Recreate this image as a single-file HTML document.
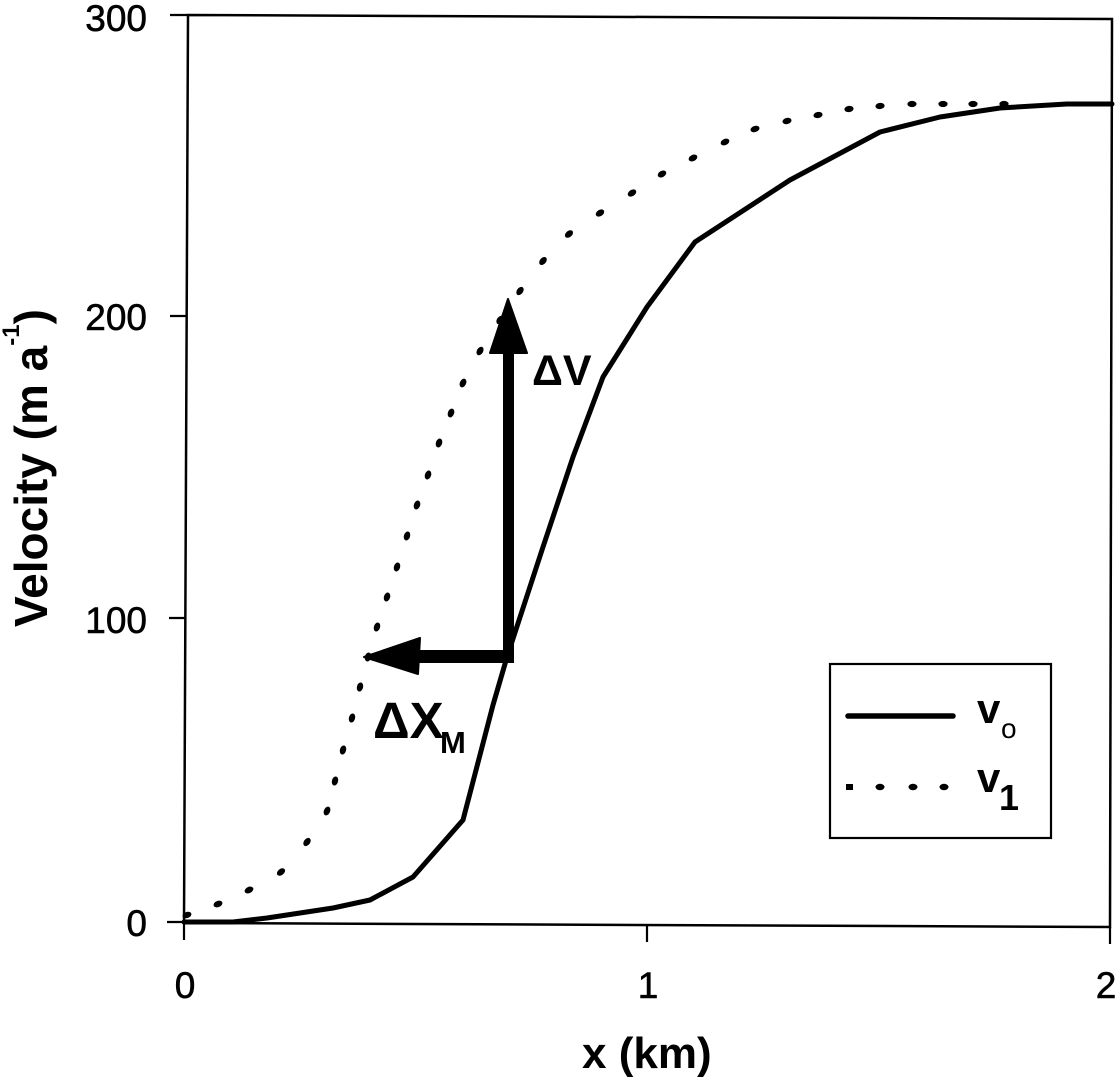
<!DOCTYPE html>
<html>
<head>
<meta charset="utf-8">
<style>
  html, body { margin: 0; padding: 0; background: #ffffff; }
  svg { display: block; }
  text { font-family: "Liberation Sans", Arial, sans-serif; fill: #000; }
</style>
</head>
<body>
<svg width="1120" height="1082" viewBox="0 0 1120 1082" xmlns="http://www.w3.org/2000/svg">
  <defs>
    <marker id="dot" markerUnits="userSpaceOnUse" markerWidth="12" markerHeight="12" refX="6" refY="6" orient="auto" overflow="visible">
      <ellipse cx="6" cy="6" rx="4.6" ry="3.1" fill="#000"/>
    </marker>
  </defs>
  <rect x="0" y="0" width="1120" height="1082" fill="#fff"/>

  <!-- frame -->
  <polygon points="188,15 1112,19 1110,927 184,923" fill="none" stroke="#000" stroke-width="2.5"/>

  <!-- ticks -->
  <g stroke="#000" stroke-width="2.2">
    <line x1="170" y1="15" x2="188" y2="15"/>
    <line x1="170" y1="316" x2="187" y2="316"/>
    <line x1="169" y1="618" x2="186" y2="618"/>
    <line x1="167" y1="922" x2="185" y2="922"/>
    <line x1="184" y1="923" x2="184" y2="940"/>
    <line x1="647" y1="925" x2="647" y2="942"/>
    <line x1="1110" y1="927" x2="1110" y2="944"/>
  </g>

  <!-- y tick labels -->
  <g font-size="37" text-anchor="end" stroke="#000" stroke-width="0.6">
    <text x="147" y="31">300</text>
    <text x="147" y="330">200</text>
    <text x="147" y="633">100</text>
    <text x="147" y="936">0</text>
  </g>
  <!-- x tick labels -->
  <g font-size="37" text-anchor="middle" stroke="#000" stroke-width="0.6">
    <text x="185" y="998">0</text>
    <text x="648" y="998">1</text>
    <text x="1106" y="998">2</text>
  </g>

  <!-- axis titles -->
  <text x="582" y="1068" font-size="44" font-weight="bold">x (km)</text>
  <text transform="translate(47,627) rotate(-90)" font-size="46" font-weight="bold">Velocity (m a<tspan font-size="24" dy="-28">-1</tspan><tspan dy="28">)</tspan></text>

  <!-- solid curve v0 -->
  <polyline fill="none" stroke="#000" stroke-width="5" stroke-linejoin="round" stroke-linecap="round"
    points="184,922 233,922 267,918 300,913 333,908 370,900 413,877 463,820 493,705 507,657 542,550 573,457 603,377 647,307 695,242 790,180 880,132 940,117 1000,108 1067,104 1112,104"/>

  <!-- dotted curve v1 -->
  <polyline fill="none" stroke="none"
    marker-start="url(#dot)" marker-mid="url(#dot)" marker-end="url(#dot)"
    points="187,915 218,904 249,890 281,872 307,842 327,811 335,781 343,750 352,718 360,687 368,657 377,627 387,597 397,567 407,536 417,505 428,475 439,443 451,413 463,383 480,351 500,320 520,291 543,261 569,234 600,213 632,193 662,174 693,158 725,142 755,129 787,121 818,115 849,109 880,106 912,104 943,104 973,104 1004,104"/>

  <!-- arrows -->
  <rect x="503" y="348" width="11" height="315" fill="#000"/>
  <polygon points="508,299 527,353 490,353" fill="#000" stroke="#000" stroke-width="2" stroke-linejoin="round"/>
  <rect x="414" y="650" width="100" height="13" fill="#000"/>
  <polygon points="364,657 420,638 418,674" fill="#000" stroke="#000" stroke-width="2" stroke-linejoin="round"/>

  <!-- annotations -->
  <text x="532" y="385" font-size="43" font-weight="bold">ΔV</text>
  <text x="373" y="738" font-size="51" font-weight="bold">ΔX</text>
  <text x="440" y="753" font-size="31" font-weight="bold">M</text>

  <!-- legend -->
  <rect x="830" y="664" width="221" height="174" fill="#fff" stroke="#000" stroke-width="2.2"/>
  <line x1="848" y1="716" x2="953" y2="716" stroke="#000" stroke-width="5.5" stroke-linecap="round"/>
  <g fill="#000">
    <rect x="846" y="784" width="7" height="6"/>
    <ellipse cx="880" cy="787" rx="4.5" ry="3.2"/>
    <ellipse cx="913" cy="787" rx="4.5" ry="3.2"/>
    <ellipse cx="944" cy="787" rx="4.5" ry="3.2"/>
  </g>
  <text x="977" y="723" font-size="42" font-weight="bold">v</text>
  <text x="1001" y="738" font-size="28">o</text>
  <text x="977" y="792" font-size="42" font-weight="bold">v</text>
  <text x="999" y="810" font-size="36" font-weight="bold">1</text>
</svg>
</body>
</html>
